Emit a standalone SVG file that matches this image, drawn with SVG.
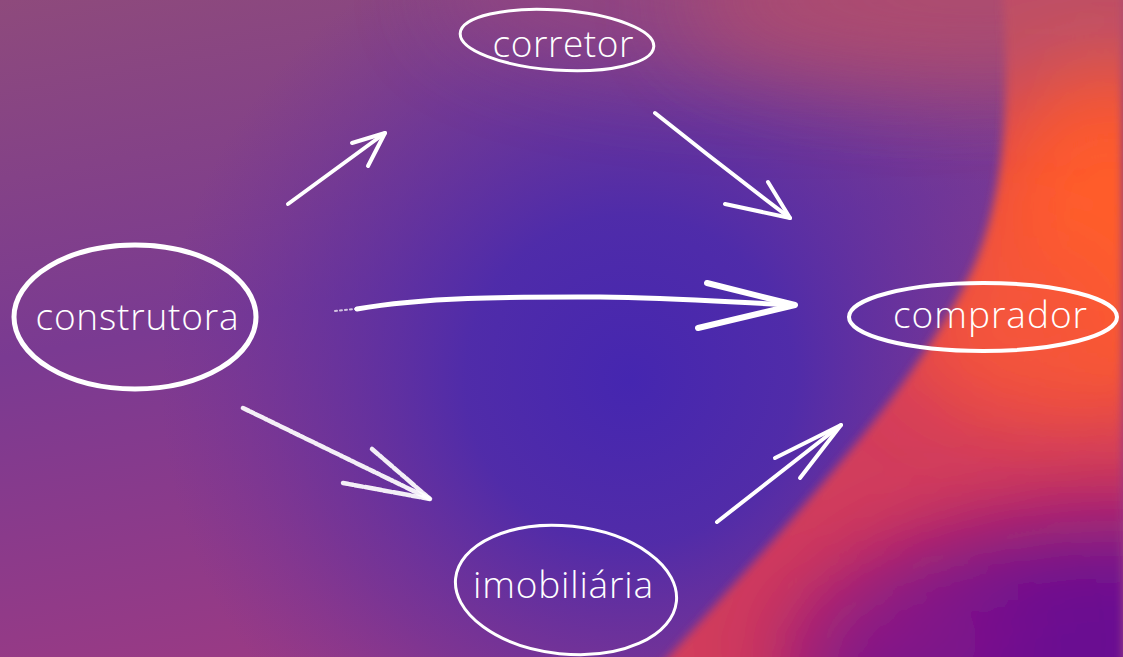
<svg xmlns="http://www.w3.org/2000/svg" width="1123" height="657" viewBox="0 0 1123 657">
<defs>
<style>
.ln{fill:none;stroke:#fff;stroke-linecap:round;stroke-linejoin:round}
.ring{fill:none;stroke:#fff}
.lbl{font-family:"Open Sans","Liberation Sans",sans-serif;font-weight:300;font-size:37px;fill:#fff;text-anchor:middle}
</style>
<linearGradient id="base" x1="0" y1="0" x2="0.3" y2="1">
<stop offset="0" stop-color="#8e4a7c"/>
<stop offset="0.5" stop-color="#7a3a92"/>
<stop offset="1" stop-color="#9a3a84"/>
</linearGradient>
<radialGradient id="blue" gradientUnits="userSpaceOnUse" cx="630" cy="380" r="470">
<stop offset="0" stop-color="#4526b0" stop-opacity="1"/>
<stop offset="0.35" stop-color="#4a2aac" stop-opacity="0.9"/>
<stop offset="0.7" stop-color="#5a2ea4" stop-opacity="0.45"/>
<stop offset="1" stop-color="#6a30a0" stop-opacity="0"/>
</radialGradient>
<clipPath id="warmclip">
<path d="M1123 -40 L1000 -40 C1015 120 1000 220 965 285 C905 400 800 510 630 700 L1123 700 Z"/>
</clipPath>
<filter id="soft" filterUnits="userSpaceOnUse" x="-100" y="-100" width="1400" height="900"><feGaussianBlur stdDeviation="5"/></filter>
<filter id="blob" filterUnits="userSpaceOnUse" x="-300" y="-300" width="1800" height="1300"><feGaussianBlur stdDeviation="45"/></filter>
</defs>
<g id="background">
<rect width="1123" height="657" fill="url(#base)"/>
<rect width="1123" height="657" fill="url(#blue)"/>
<ellipse cx="820" cy="-10" rx="380" ry="90" fill="#a04c7a" opacity="0.6" filter="url(#blob)"/>
<ellipse cx="980" cy="0" rx="300" ry="80" fill="#b44e6c" opacity="0.8" filter="url(#blob)"/>
<g filter="url(#soft)">
<g clip-path="url(#warmclip)">
<rect x="600" y="-40" width="523" height="740" fill="#d23c5c"/>
<ellipse cx="1040" cy="20" rx="220" ry="100" fill="#bd5068" filter="url(#blob)"/>
<ellipse cx="1110" cy="240" rx="140" ry="170" fill="#ff5c2a" filter="url(#blob)"/>
<ellipse cx="1010" cy="330" rx="110" ry="80" fill="#f5543a" filter="url(#blob)"/>
<ellipse cx="1123" cy="690" rx="320" ry="170" fill="#6a0a92" filter="url(#blob)"/>
<ellipse cx="900" cy="640" rx="120" ry="50" fill="#9c1a80" opacity="0.6" filter="url(#blob)"/>
</g>
</g>
</g>
<g id="connectors">
<g id="c-construtora-corretor" class="ln" stroke-width="4">
<path d="M288 204 L385 133"/><path d="M352 143 L385 133 L368 166"/>
</g>
<g id="c-corretor-comprador" class="ln" stroke-width="4">
<path d="M655 113 Q720 165 790 218"/><path d="M725 204 L790 218 L768 182"/>
</g>
<g id="c-construtora-comprador" class="ln" stroke-width="5">
<path d="M357 309 C430 296 520 297 600 297 C680 298 740 303 795 305" />
<path d="M335 311 L355 309" stroke-width="2" stroke-dasharray="2 3" opacity="0.7"/>
<path d="M707 283 L795 305 L698 328" stroke-width="6"/>
</g>
<g id="c-construtora-imobiliaria" class="ln" stroke-width="4.5">
<path d="M243 408 L430 499" stroke-dasharray="6 2 3 2.5 9 1.5 2 2" opacity="0.92"/>
<path d="M372 449 L430 499 L343 483" stroke-dasharray="8 2 4 1.5 11 2.5" opacity="0.92"/>
</g>
<g id="c-imobiliaria-comprador" class="ln" stroke-width="4">
<path d="M717 522 L841 425"/><path d="M775 458 L841 425 L800 478"/>
</g>
</g>
<g id="node-construtora">
<ellipse class="ring" cx="135" cy="317" rx="121" ry="72" stroke-width="5"/>
<text class="lbl" x="137" y="330" textLength="203" lengthAdjust="spacing">construtora</text>
</g>
<g id="node-corretor">
<ellipse class="ring" cx="557" cy="40" rx="97" ry="30" stroke-width="3" transform="rotate(4 557 40)"/>
<text class="lbl" x="563" y="57" textLength="141" lengthAdjust="spacing">corretor</text>
</g>
<g id="node-comprador">
<ellipse class="ring" cx="983" cy="317" rx="134" ry="34" stroke-width="4"/>
<text class="lbl" x="990" y="328" textLength="194" lengthAdjust="spacing">comprador</text>
</g>
<g id="node-imobiliaria">
<ellipse class="ring" cx="566" cy="590" rx="111" ry="64" stroke-width="3" transform="rotate(6 566 590)"/>
<text class="lbl" x="563" y="598" textLength="180" lengthAdjust="spacing">imobiliária</text>
</g>
</svg>
